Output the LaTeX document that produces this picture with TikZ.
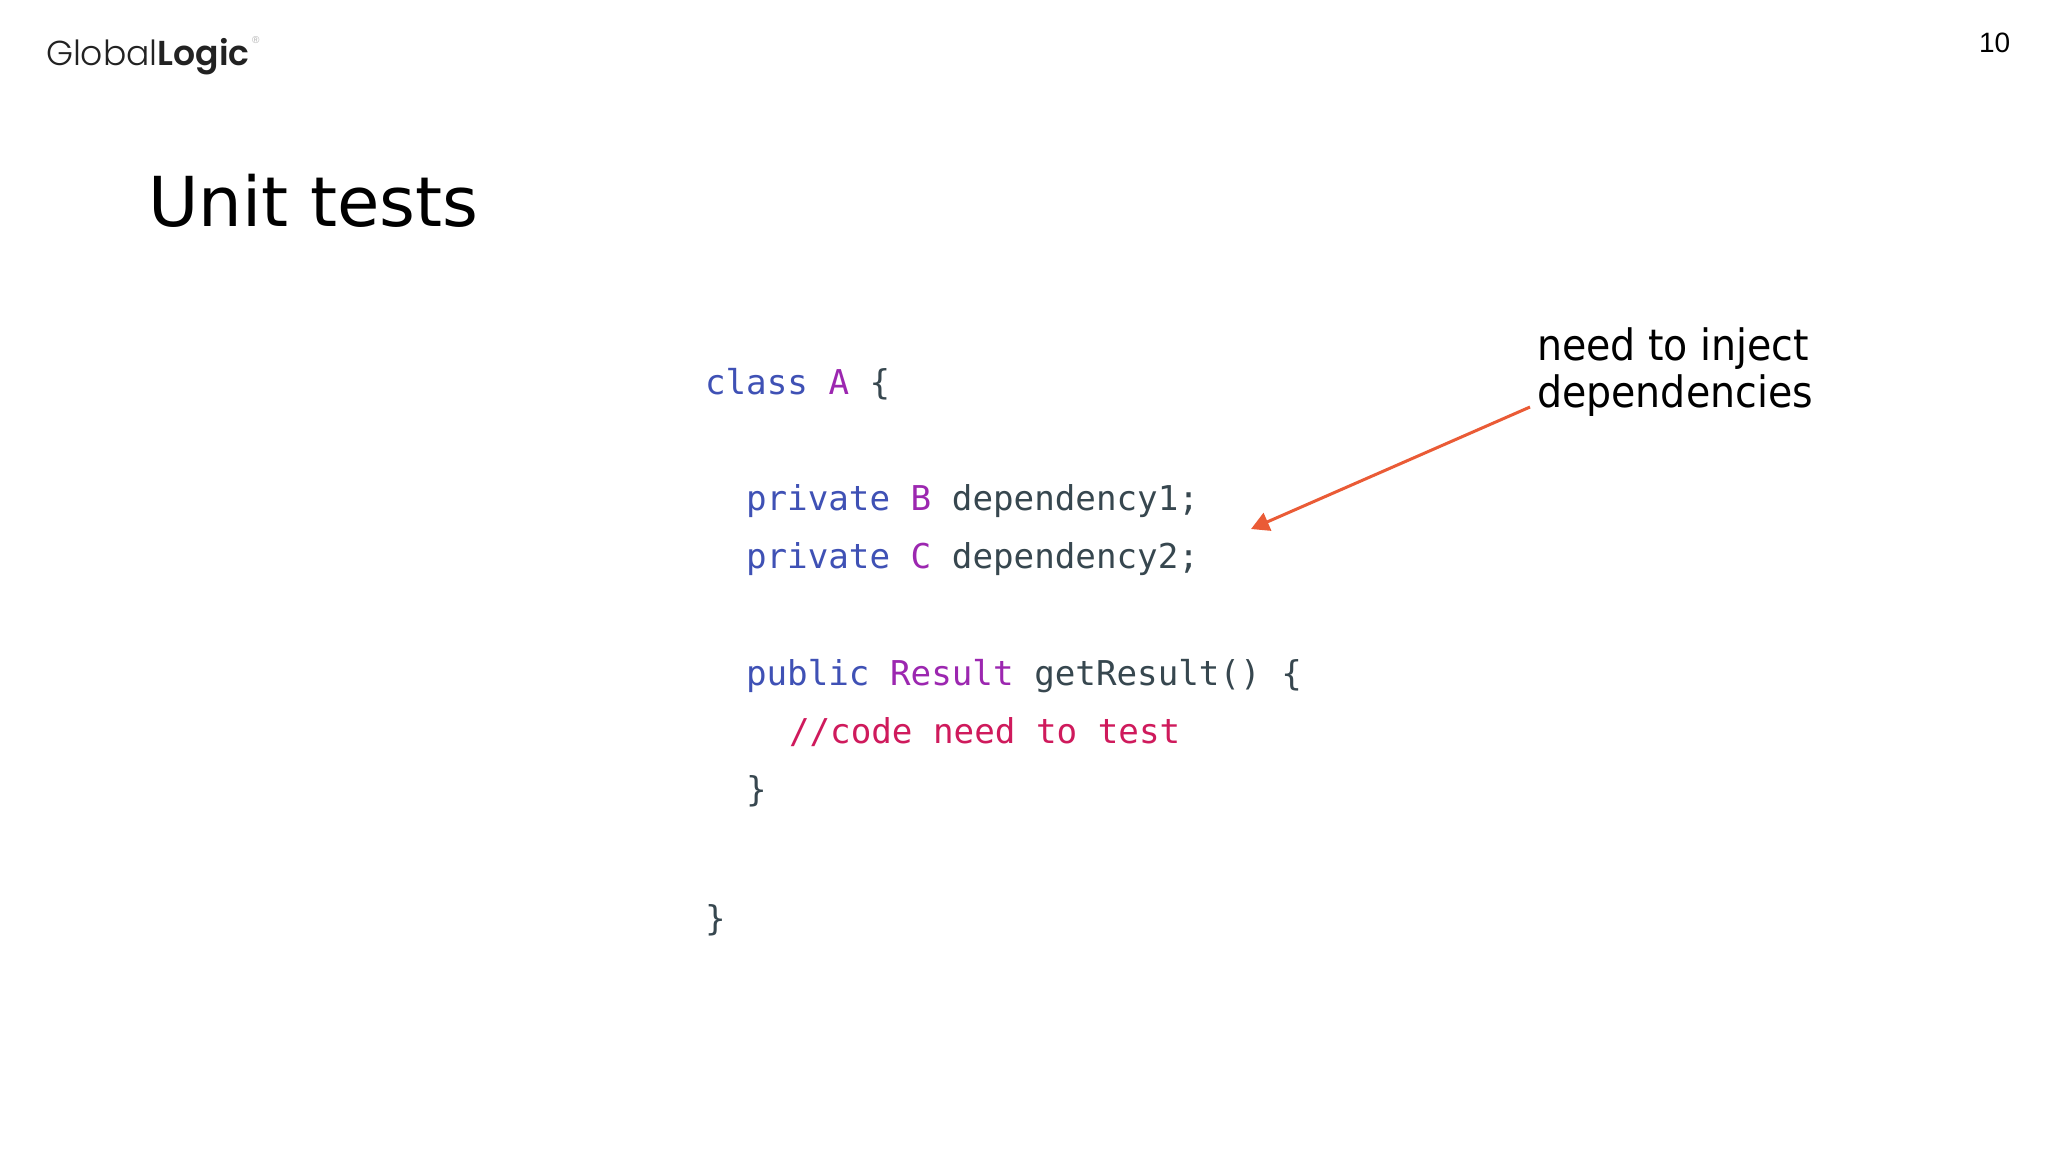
\documentclass[tikz,border=0pt]{standalone}
\usepackage{fontspec}
\usetikzlibrary{arrows.meta}
\setmainfont{DejaVu Sans}
\newfontfamily\codefont{DejaVu Sans Mono}
\newfontfamily\logolight{Poppins Light}
\newfontfamily\logobold{Poppins SemiBold}
\newfontfamily\numfont{Liberation Sans}
\newfontfamily\notefont[FakeStretch=0.915]{DejaVu Sans}
\definecolor{kw}{HTML}{3F51B5}
\definecolor{ty}{HTML}{9C27B0}
\definecolor{tx}{HTML}{37474F}
\definecolor{cm}{HTML}{CF1A5C}
\definecolor{arrowred}{HTML}{EA5B36}
\newcommand{\kw}[1]{\textcolor{kw}{#1}}
\newcommand{\ty}[1]{\textcolor{ty}{#1}}
\tikzset{
  x=0.5pt,y=-0.5pt,
  every node/.style={inner sep=0pt,outer sep=0pt,anchor=base west},
  codeline/.style={font=\codefont\fontsize{17.1}{20}\selectfont,text=tx},
  titletext/.style={font=\fontsize{34.45}{40}\selectfont,text=black},
  notetext/.style={font=\notefont\fontsize{21.6}{23.5}\selectfont,text=black,align=left},
  pointer/.style={draw=arrowred,line width=1.5pt,-{Triangle[length=9pt,width=9.5pt]}}
}
\begin{document}
\begin{tikzpicture}
\useasboundingbox[fill=white] (0,0) rectangle (2048,1152);
\node (logo) at (46,65) {\fontsize{17.3}{20}\selectfont\textcolor[HTML]{222222}{\logolight Global\logobold Logic}};
\node[font=\numfont\fontsize{5}{6}\selectfont,text=gray!60] (reg) at (252,43) {\textregistered};
\node[font=\numfont\fontsize{14}{16}\selectfont,text=black] (page) at (1979,52) {10};
\node[titletext] (title) at (148,226) {Unit tests};
\node[codeline] (l1) at (705,394) {\kw{class} \ty{A} \{};
\node[codeline] (l2) at (746,510) {\kw{private} \ty{B} dependency1;};
\node[codeline] (l3) at (746,568) {\kw{private} \ty{C} dependency2;};
\node[codeline] (l4) at (746,685) {\kw{public} \ty{Result} getResult() \{};
\node[codeline,text=cm] (l5) at (789,743) {//code need to test};
\node[codeline] (l6) at (746,801) {\}};
\node[codeline] (l7) at (705,930) {\}};
\node[notetext] (n1) at (1537,360) {need to inject};
\node[notetext] (n2) at (1537,407) {dependencies};
\coordinate (from) at (1530,407);
\coordinate (tip) at (1251,529);
\draw[pointer] (from) -- (tip);
\end{tikzpicture}
\end{document}
